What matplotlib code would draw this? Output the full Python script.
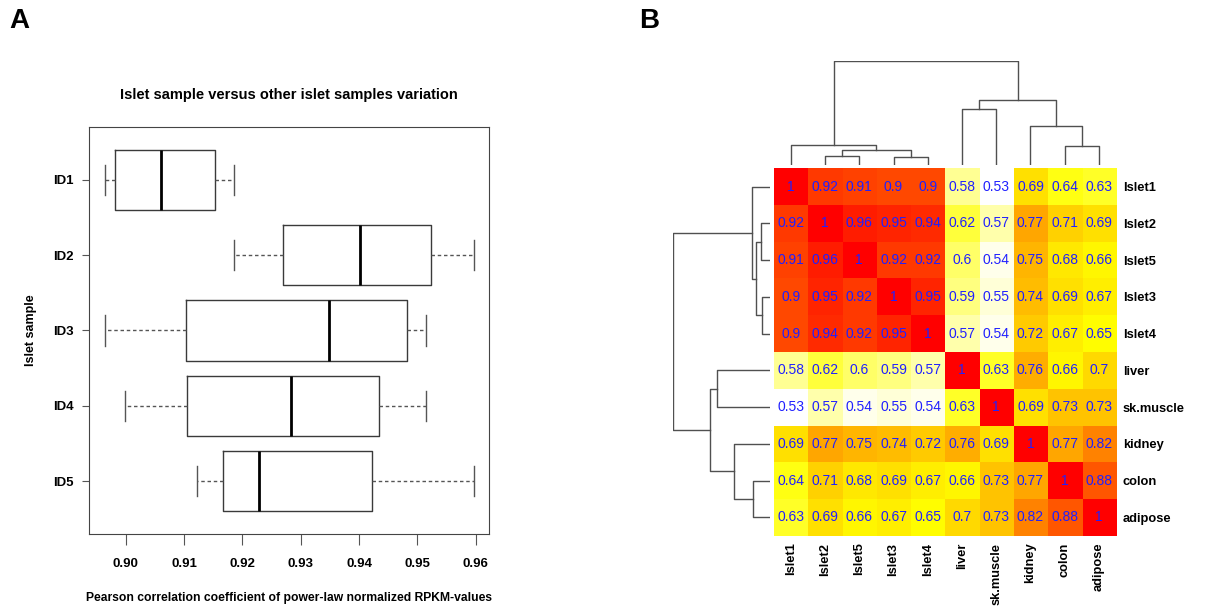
import numpy as np
import matplotlib
matplotlib.use('Agg')
import matplotlib.pyplot as plt
from matplotlib.colors import LinearSegmentedColormap

plt.rcParams['font.family'] = ['Liberation Sans', 'DejaVu Sans']

# ---- panel A data: box stats per sample ----
sample_ids = ['ID1', 'ID2', 'ID3', 'ID4', 'ID5']
whis_low = [0.8964, 0.9185, 0.8964, 0.8999, 0.9122]
q1 = [0.8981, 0.9270, 0.9104, 0.9105, 0.9167]
median = [0.9060, 0.9402, 0.9348, 0.9284, 0.9229]
q3 = [0.9153, 0.9524, 0.9483, 0.9435, 0.9422]
whis_high = [0.9185, 0.9598, 0.9515, 0.9515, 0.9598]
x_ticks = [0.90, 0.91, 0.92, 0.93, 0.94, 0.95, 0.96]

# ---- panel B data: correlation matrix in clustered order ----
tissues = ['Islet1', 'Islet2', 'Islet5', 'Islet3', 'Islet4',
           'liver', 'sk.muscle', 'kidney', 'colon', 'adipose']
corr = [
    [1, 0.92, 0.91, 0.9, 0.9, 0.58, 0.53, 0.69, 0.64, 0.63],
    [0.92, 1, 0.96, 0.95, 0.94, 0.62, 0.57, 0.77, 0.71, 0.69],
    [0.91, 0.96, 1, 0.92, 0.92, 0.6, 0.54, 0.75, 0.68, 0.66],
    [0.9, 0.95, 0.92, 1, 0.95, 0.59, 0.55, 0.74, 0.69, 0.67],
    [0.9, 0.94, 0.92, 0.95, 1, 0.57, 0.54, 0.72, 0.67, 0.65],
    [0.58, 0.62, 0.6, 0.59, 0.57, 1, 0.63, 0.76, 0.66, 0.7],
    [0.53, 0.57, 0.54, 0.55, 0.54, 0.63, 1, 0.69, 0.73, 0.73],
    [0.69, 0.77, 0.75, 0.74, 0.72, 0.76, 0.69, 1, 0.77, 0.82],
    [0.64, 0.71, 0.68, 0.69, 0.67, 0.66, 0.73, 0.77, 1, 0.88],
    [0.63, 0.69, 0.66, 0.67, 0.65, 0.7, 0.73, 0.82, 0.88, 1],
]

# dendrogram merges (leaves 0-9, new nodes numbered from 10), relative heights
merge_left = [1, 3, 10, 0, 5, 8, 7, 14, 13]
merge_right = [2, 4, 11, 12, 6, 9, 15, 16, 17]
merge_height = [0.09, 0.08, 0.14, 0.19, 0.54, 0.18, 0.37, 0.62, 1.0]


def dendro_segments():
    pos = {i: float(i) for i in range(len(tissues))}
    hgt = {i: 0.0 for i in range(len(tissues))}
    segs = []
    for k, (a, b, h) in enumerate(zip(merge_left, merge_right, merge_height)):
        node = len(tissues) + k
        segs.append(([pos[a], pos[a], pos[b], pos[b]], [hgt[a], h, h, hgt[b]]))
        pos[node] = (pos[a] + pos[b]) / 2
        hgt[node] = h
    return segs


fig = plt.figure(figsize=(12.26, 6.09), dpi=100)

# ================= Panel A =================
ax = fig.add_axes([0.0726, 0.1232, 0.3263, 0.6683])
stats = []
for i in range(len(sample_ids)):
    stats.append(dict(whislo=whis_low[i], q1=q1[i], med=median[i], q3=q3[i],
                      whishi=whis_high[i], fliers=[], label=sample_ids[i]))
ax.bxp(stats, positions=range(1, 6), widths=0.8, capwidths=0.4,
       orientation='horizontal', showfliers=False,
       boxprops=dict(color='#3a3a3a', lw=1.0),
       whiskerprops=dict(color='#555555', lw=1.0, linestyle=(0, (2.5, 2))),
       capprops=dict(color='#555555', lw=1.0),
       medianprops=dict(color='black', lw=2.0))
ax.set_xlim(0.8937, 0.9623)
ax.set_ylim(5.7, 0.3)
ax.set_xticks(x_ticks)
ax.set_xticklabels([f'{t:.2f}' for t in x_ticks], fontweight='bold', fontsize=9.5)
ax.set_yticks(range(1, 6))
ax.set_yticklabels(sample_ids, fontweight='bold', fontsize=9.5)
ax.tick_params(axis='x', length=8, pad=9, color='#555555')
ax.tick_params(axis='y', length=5.3, pad=6, color='#555555')
for sp in ax.spines.values():
    sp.set_color('#444444')
ax.set_title('Islet sample versus other islet samples variation',
             fontweight='bold', fontsize=10.5, pad=20)
ax.set_xlabel('Pearson correlation coefficient of power-law normalized RPKM-values',
              fontweight='bold', fontsize=8.7, labelpad=16)
ax.set_ylabel('Islet sample', fontweight='bold', fontsize=9, labelpad=11)

# ================= Panel B =================
heat = LinearSegmentedColormap.from_list(
    'heat', [(0.0, '#FFFFFF'), (0.25, '#FFFF00'), (1.0, '#FF0000')])
mat = np.array(corr)
n = len(tissues)

axh = fig.add_axes([0.6311, 0.1204, 0.2792, 0.6032])
axh.imshow(mat, cmap=heat, vmin=mat.min(), vmax=mat.max(), aspect='auto',
           interpolation='nearest')
for r in range(n):
    for c in range(n):
        axh.text(c, r, f'{mat[r, c]:g}', ha='center', va='center',
                 color='#2020ff', fontsize=10)
axh.set_xticks(range(n))
axh.set_xticklabels(tissues, rotation=90, fontweight='bold', fontsize=9.3, va='top')
axh.yaxis.tick_right()
axh.set_yticks(range(n))
axh.set_yticklabels(tissues, fontweight='bold', fontsize=9.3)
axh.tick_params(length=0, pad=5)
for sp in axh.spines.values():
    sp.set_visible(False)

# column dendrogram
axc = fig.add_axes([0.6311, 0.7291, 0.2792, 0.1712])
for xs, ys in dendro_segments():
    axc.plot(xs, ys, color='#505050', lw=1.0)
axc.set_xlim(-0.5, n - 0.5)
axc.set_ylim(0, 1.0)
axc.axis('off')

# row dendrogram
axr = fig.add_axes([0.5487, 0.1204, 0.0794, 0.6032])
for xs, ys in dendro_segments():
    axr.plot(ys, xs, color='#505050', lw=1.0)
axr.set_ylim(n - 0.5, -0.5)
axr.set_xlim(1.0, 0)
axr.axis('off')

fig.text(0.0075, 0.965, 'A', fontsize=20, fontweight='bold', va='center')
fig.text(0.521, 0.965, 'B', fontsize=20, fontweight='bold', va='center')

fig.savefig('out.png', dpi=100)
